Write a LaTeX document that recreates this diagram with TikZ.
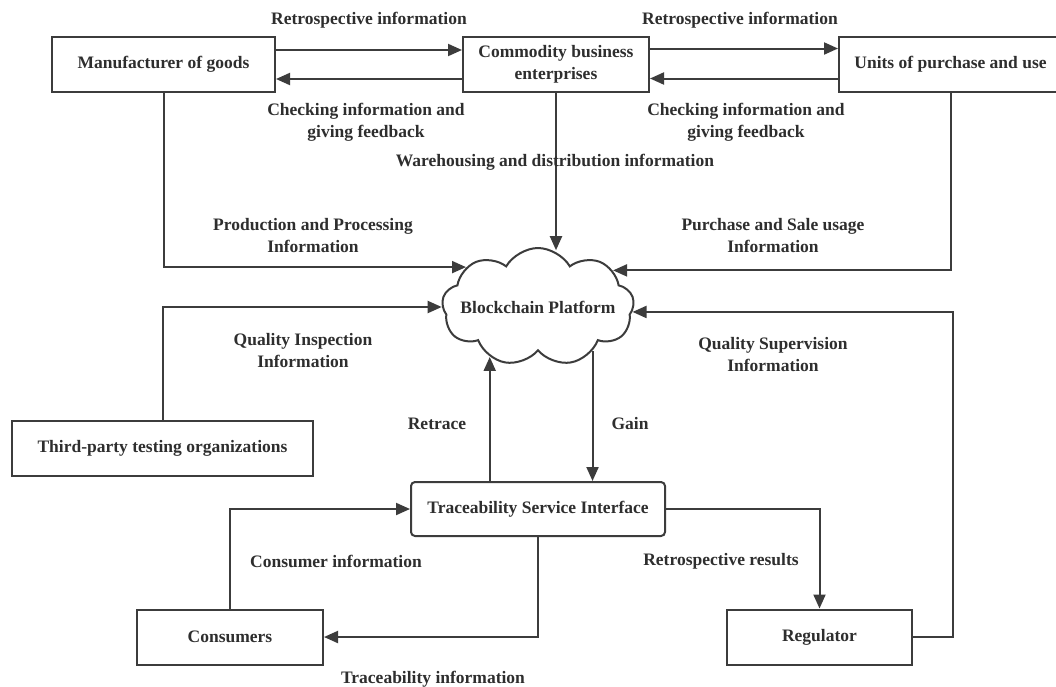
\documentclass[tikz,border=0pt]{standalone}
\usepackage{fontspec}
\setmainfont{Liberation Serif}
\usetikzlibrary{shapes.symbols,arrows.meta,calc}
\definecolor{ln}{HTML}{3C3C3C}
\definecolor{tx}{HTML}{2E2E2E}
\tikzset{
  txt/.style={text=tx,font=\fontsize{17.5}{22}\selectfont\bfseries},
  box/.style={txt,draw=ln,line width=2pt,fill=white,inner sep=0pt,align=center},
  lbl/.style={txt,align=center,inner sep=0pt},
  arr/.style={draw=ln,line width=2pt,-{Triangle[length=14pt,width=12pt]}},
}
\begin{document}
\begin{tikzpicture}[x=1pt,y=-1pt]
\useasboundingbox[fill=white] (0,0) rectangle (1056,686);
% nodes
\node[box,minimum width=223pt,minimum height=55pt] (man) at (163.5,64.5) {Manufacturer of goods};
\node[box,minimum width=186pt,minimum height=55pt] (com) at (556,64.5) {Commodity business\\enterprises};
\node[box,minimum width=223pt,minimum height=55pt] (uni) at (950.5,64.5) {Units of purchase and use};
\node[cloud,cloud puffs=9,cloud puff arc=120,aspect=1.65,draw=ln,line width=2pt,fill=white,minimum width=192pt,minimum height=118pt,inner sep=0pt,
  label={[txt]center:Blockchain Platform}] (cl) at (538,307) {};
\node[box,minimum width=301pt,minimum height=55pt] (tp) at (162.5,448.5) {Third-party testing organizations};
\node[box,rounded corners=4pt,minimum width=254pt,minimum height=54pt] (tsi) at (538,509) {Traceability Service Interface};
\node[box,minimum width=186pt,minimum height=55pt] (con) at (230,637) {Consumers};
\node[box,minimum width=185pt,minimum height=55pt] (reg) at (819.5,637) {Regulator};
% connectors
\draw[arr] ([yshift=14.5pt]man.east) -- ([yshift=14.5pt]com.west);
\draw[arr] ([yshift=-14.5pt]com.west) -- ([yshift=-14.5pt]man.east);
\draw[arr] ([yshift=16pt]com.east) -- ([yshift=16pt]uni.west);
\draw[arr] ([yshift=-14pt]uni.west) -- ([yshift=-14pt]com.east);
\draw[arr] (man.south) |- (cl.151);
\draw[arr] (com.south) -- (com.south |- cl.75);
\draw[arr] (uni.south) |- (cl.26);
\draw[arr] (tp.north) |- (cl.west);
\draw[arr] (reg.east) -- ++(40,0) |- (cl.-3);
\draw[arr] (tsi.north -| cl.226) -- (cl.226);
\draw[arr] (cl.321) -- (cl.321 |- tsi.north);
\draw[arr] (con.north) |- (tsi.west);
\draw[arr] (tsi.south) |- (con.east);
\draw[arr] (tsi.east) -| (reg.north);
% labels
\node[lbl] (l1) at (369,20) {Retrospective information};
\node[lbl] (l2) at (740,20) {Retrospective information};
\node[lbl] (l3) at (366,122) {Checking information and\\giving feedback};
\node[lbl] (l4) at (746,122) {Checking information and\\giving feedback};
\node[lbl] (l5) at (555,162) {Warehousing and distribution information};
\node[lbl] (l6) at (313,236) {Production and Processing\\Information};
\node[lbl] (l7) at (773,236) {Purchase and Sale usage\\Information};
\node[lbl] (l8) at (303,351) {Quality Inspection\\Information};
\node[lbl] (l9) at (773,355) {Quality Supervision\\Information};
\node[lbl] (l10) at (437,424) {Retrace};
\node[lbl] (l11) at (630,424) {Gain};
\node[lbl] (l12) at (336,561) {Consumer information};
\node[lbl] (l13) at (721,561) {Retrospective results};
\node[lbl] (l14) at (433,679) {Traceability information};
\end{tikzpicture}
\end{document}
